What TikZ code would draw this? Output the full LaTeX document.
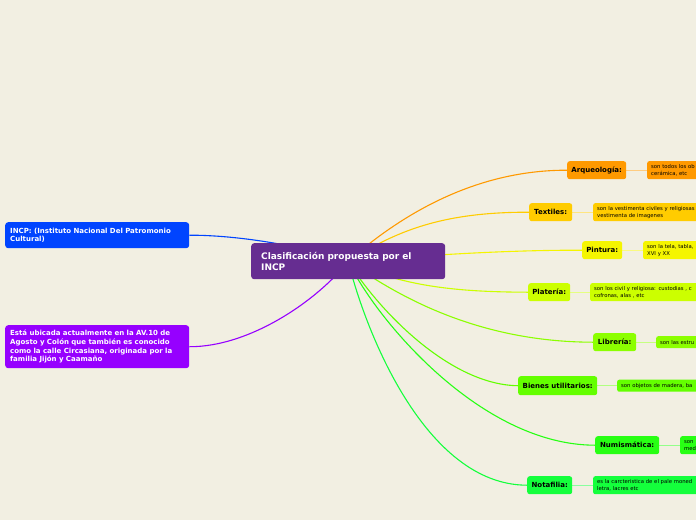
\documentclass[tikz,border=0pt]{standalone}
\usepackage{fontspec}
\setmainfont{DejaVu Sans}
\usetikzlibrary{backgrounds}
\definecolor{bg}{RGB}{242,239,226}
\definecolor{cpurple}{RGB}{102,45,145}
\definecolor{cblue}{RGB}{0,68,255}
\definecolor{cviolet}{RGB}{150,0,255}
\definecolor{corange}{RGB}{255,153,0}
\definecolor{cgold}{RGB}{255,204,0}
\definecolor{cyellow}{RGB}{245,245,0}
\definecolor{clime}{RGB}{204,255,0}
\definecolor{clime2}{RGB}{140,255,0}
\definecolor{cgreen1}{RGB}{100,255,0}
\definecolor{cgreen2}{RGB}{40,255,20}
\definecolor{cgreen3}{RGB}{20,255,60}
\begin{document}
\begin{tikzpicture}[x=1pt,y=-1pt,
  mainbox/.style={fill=cpurple,rounded corners=3pt,text=white,font=\fontsize{9}{11}\selectfont\bfseries,align=left,anchor=north west,inner xsep=10pt,inner ysep=0pt,minimum height=36pt,text width=174pt},
  sidebox/.style={rounded corners=3pt,text=white,font=\fontsize{7}{8.6}\selectfont\bfseries,align=left,anchor=north west,inner xsep=5pt,inner ysep=0pt,text width=174pt},
  catbox/.style={rounded corners=2.5pt,font=\fontsize{7}{9}\selectfont\bfseries,anchor=north west,inner sep=0pt,minimum height=18pt},
  detbox/.style={rounded corners=2pt,font=\fontsize{5.3}{7}\selectfont,align=left,anchor=north west,inner xsep=4pt,inner ysep=0pt,text width=120pt},
  link/.style={line width=1.1pt},
  sublink/.style={line width=0.8pt}
]
\useasboundingbox (0,0) rectangle (696,520);
\clip (0,0) rectangle (696,520);

% central
\node[mainbox] (c) at (251,243) {Clasificación propuesta por el\\INCP};
% left
\node[sidebox,fill=cblue,minimum height=26pt] (incp) at (5,222) {INCP: (Instituto Nacional Del Patromonio\\Cultural)};
\node[sidebox,fill=cviolet,minimum height=43pt] (esta) at (5,325) {Está ubicada actualmente en la AV.10 de\\Agosto y Colón que también es conocido\\como la calle Circasiana, originada por la\\familia Jijón y Caamaño};

% categories
\node[catbox,fill=corange,minimum width=59pt] (arq) at (567,161) {Arqueología:};
\node[catbox,fill=cgold,minimum width=43pt] (tex) at (529,203) {Textiles:};
\node[catbox,fill=cyellow,minimum width=40pt] (pin) at (582,241) {Pintura:};
\node[catbox,fill=clime,minimum width=42pt] (pla) at (528,283) {Platería:};
\node[catbox,fill=clime2,minimum width=43pt] (lib) at (593,333) {Librería:};
\node[catbox,fill=cgreen1,minimum width=79pt,minimum height=19pt] (bie) at (518,376) {Bienes utilitarios:};
\node[catbox,fill=cgreen2,minimum width=64pt] (num) at (595,436) {Numismática:};
\node[catbox,fill=cgreen3,minimum width=45pt] (not) at (527,476) {Notafilia:};

% details
\node[detbox,fill=corange,minimum height=18pt] (darq) at (647,161) {son todos los ob\\cerámica, etc};
\node[detbox,fill=cgold,minimum height=18pt] (dtex) at (593,203) {son la vestimenta civiles y religiosas\\vestimenta de imagenes};
\node[detbox,fill=cyellow,minimum height=18pt] (dpin) at (643,241) {son la tela, tabla,\\XVI y XX};
\node[detbox,fill=clime,minimum height=18pt] (dpla) at (590,283) {son los civil y religiosa: custodias , c\\cofronas, alas , etc};
\node[detbox,fill=clime2,minimum height=12pt] (dlib) at (656,336) {son las estru};
\node[detbox,fill=cgreen1,minimum height=12pt] (dbie) at (617,379.5) {son objetos de madera, ba};
\node[detbox,fill=cgreen2,minimum height=18pt] (dnum) at (680,436) {son\\med};
\node[detbox,fill=cgreen3,minimum height=18pt] (dnot) at (593,476) {es la carcteristica de el pale moned\\letra, lacres etc};

\begin{scope}[on background layer]
\fill[bg] (0,0) rectangle (696,520);
\draw[link,corange] (c.center) .. controls (395,220) and (470,170) .. (arq.west);
\draw[link,cgold] (c.center) .. controls (395,232) and (440,212) .. (tex.west);
\draw[link,cyellow] (c.center) .. controls (420,256) and (500,250) .. (pin.west);
\draw[link,cblue] (c.center) .. controls (300,245) and (235,235) .. (incp.east);
\draw[link,cviolet] (c.center) .. controls (318,300) and (250,347) .. (esta.east);
\draw[link,clime] (c.center) .. controls (400,285) and (450,292) .. (pla.west);
\draw[link,clime2] (c.center) .. controls (400,298) and (480,342) .. (lib.west);
\draw[link,cgreen1] (c.center) .. controls (378,310) and (450,385) .. (bie.west);
\draw[link,cgreen2] (c.center) .. controls (375,318) and (480,445) .. (num.west);
\draw[link,cgreen3] (c.center) .. controls (365,330) and (425,485) .. (not.west);
\draw[sublink,corange!50] (arq.east) -- (darq.west);
\draw[sublink,cgold!50] (tex.east) -- (dtex.west);
\draw[sublink,cyellow!50] (pin.east) -- (dpin.west);
\draw[sublink,clime!50] (pla.east) -- (dpla.west);
\draw[sublink,clime2!50] (lib.east) -- (dlib.west);
\draw[sublink,cgreen1!50] (bie.east) -- (dbie.west);
\draw[sublink,cgreen2!50] (num.east) -- (dnum.west);
\draw[sublink,cgreen3!50] (not.east) -- (dnot.west);
\end{scope}
\end{tikzpicture}
\end{document}
